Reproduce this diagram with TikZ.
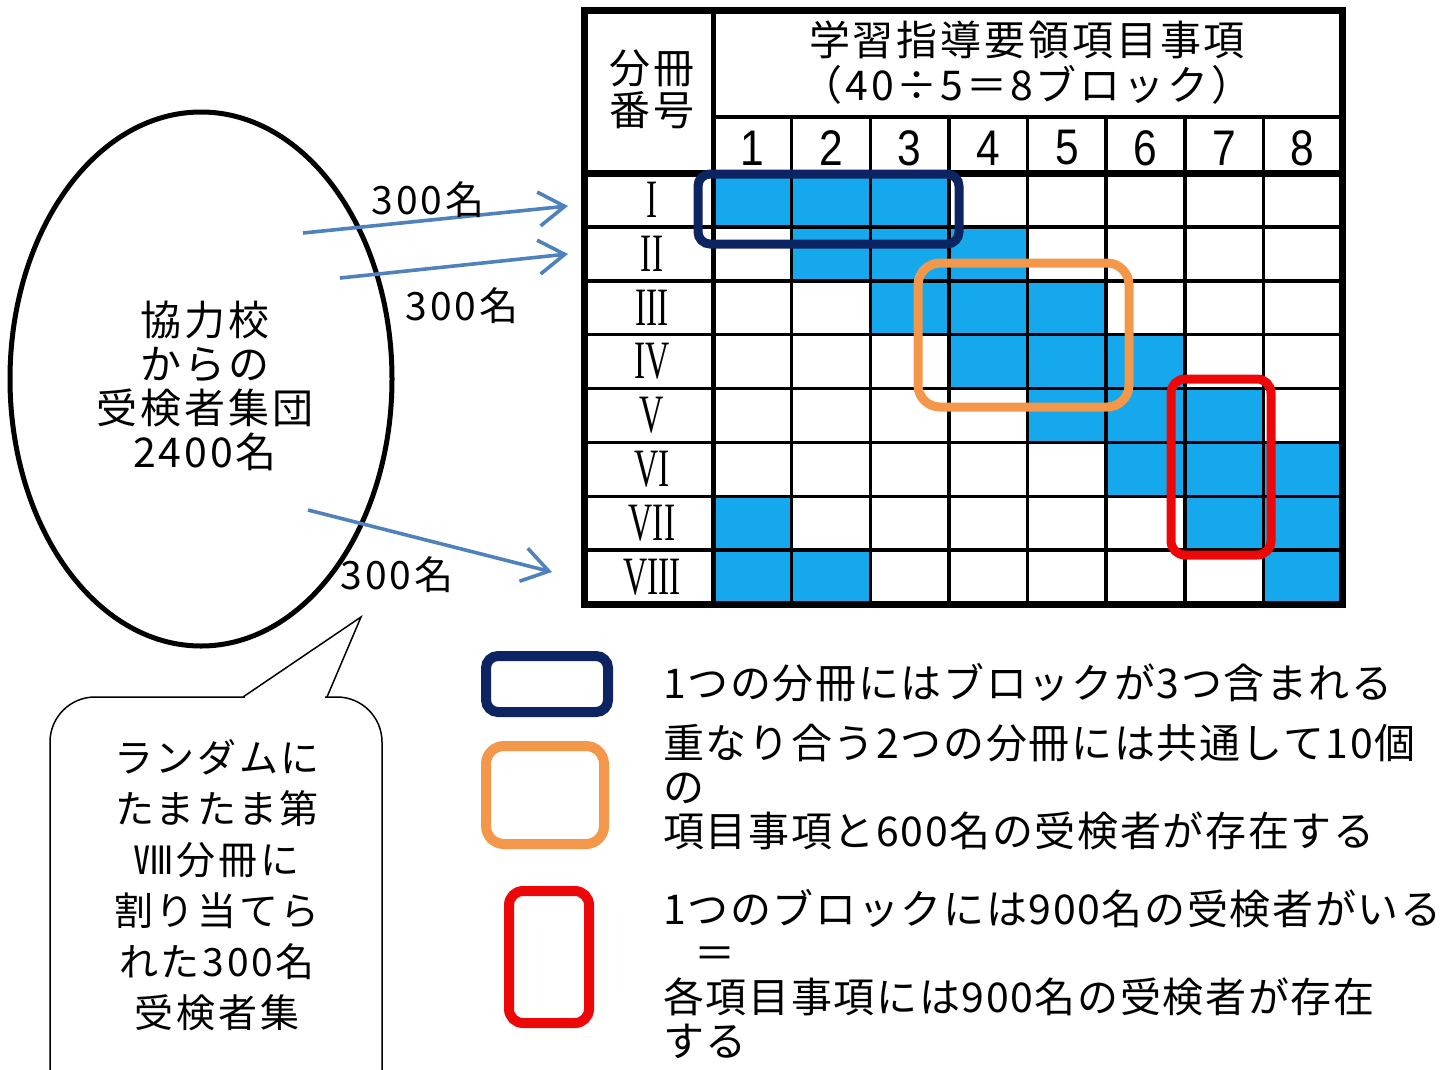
\documentclass[tikz,border=0pt]{standalone}
\usepackage{fontspec}
\setmainfont{Noto Sans CJK JP}
\newfontfamily\jpwide[LetterSpace=7]{Noto Sans CJK JP}
\newfontfamily\jpleg[LetterSpace=4]{Noto Sans CJK JP}
\newfontfamily\romfont[FakeStretch=0.62]{Liberation Serif}
\newfontfamily\numfont[FakeStretch=0.85]{Liberation Sans}
\usetikzlibrary{arrows.meta,shapes.geometric}
\definecolor{cellblue}{RGB}{22,168,236}
\definecolor{navyc}{RGB}{12,36,98}
\definecolor{orangec}{RGB}{243,152,74}
\definecolor{redc}{RGB}{236,8,8}
\definecolor{arrowc}{RGB}{79,129,189}
\begin{document}
\begin{tikzpicture}[x=1pt,y=-1pt,
  every node/.style={inner sep=0pt},
  cell/.style={fill=cellblue},
  gridline/.style={line width=3.5pt},
  frame/.style={line width=7pt},
  hl/.style={line width=9pt},
  flow/.style={arrowc, line width=3.6pt, -{Straight Barb[length=26pt,width=34pt,line width=3.6pt]}},
  lbl/.style={font=\jpwide\fontsize{39}{44}\selectfont},
  jp/.style={font=\jpwide\fontsize{41}{44}\selectfont},
  leg/.style={font=\jpleg\fontsize{41}{44}\selectfont, anchor=west, align=left},
]
\useasboundingbox (0,0) rectangle (1453,1069);

% ---------- table ----------
\foreach \r in {1,...,8}{\foreach \k in {0,1,2}{
  \pgfmathtruncatemacro\c{mod(\r+\k-1,8)}
  \fill[cell] ({713+78.625*\c},{173+53.875*(\r-1)}) rectangle ++(78.625,53.875);
}}
\foreach \k in {1,...,7} \draw[gridline] (584,{173+53.875*\k}) -- (1342,{173+53.875*\k});
\foreach \k in {1,...,7} \draw[gridline] ({713+78.625*\k},117) -- ({713+78.625*\k},604);
\draw[gridline] (713,117) -- (1342,117);
\draw[frame] (584,173) -- (1342,173);
\draw[line width=5pt] (713,10) -- (713,604);
\draw[frame] (584,10) rectangle (1342,604);

\node[align=center, font=\jpwide\fontsize{41}{45}\selectfont] (title) at (1027,63) {学習指導要領項目事項\\（40÷5＝8ブロック）};
\node[align=center, font=\jpwide\fontsize{41}{42}\selectfont] (bsn) at (652,89) {分冊\\番号};
\foreach \c in {1,...,8}
  \node[font=\numfont\fontsize{50}{50}\selectfont] (col\c) at ({713+78.625*(\c-0.5)},148) {\c};
\foreach \r/\t in {1/I,2/II,3/III,4/IV,5/V,6/VI,7/VII,8/VIII}
  \node[font=\romfont\fontsize{54}{54}\selectfont] (rn\r) at (652,{173+53.875*(\r-0.5)}) {\t};

% highlight boxes on table
\draw[hl, navyc, rounded corners=12pt] (698,174) rectangle (959,244);
\draw[hl, orangec, rounded corners=22pt] (918,263) rectangle (1129,407);
\draw[hl, redc, rounded corners=14pt] (1171,379) rectangle (1271,555);

% ---------- population ellipse ----------
\node[draw, ellipse, line width=5pt, minimum width=382pt, minimum height=534pt] (grp) at (201,379) {};
\node[jp, align=center] (grptext) at (205,386) {協力校\\からの\\受検者集団\\2400名};

\coordinate (a1s) at (303,233); \coordinate (a1e) at (568,206);
\coordinate (a2s) at (340,278); \coordinate (a2e) at (568,254);
\coordinate (a3s) at (308,510); \coordinate (a3e) at (552,572);
\draw[flow] (a1s) -- (a1e);
\draw[flow] (a2s) -- (a2e);
\draw[flow] (a3s) -- (a3e);
\node[lbl] (n1) at (428,200) {300名};
\node[lbl] (n2) at (462,306) {300名};
\node[lbl] (n3) at (397,575) {300名};

% ---------- callout ----------
\draw[line width=1.5pt, rounded corners=45pt] (50,697) rectangle (382,1130);
\fill[white] (245,692) rectangle (325,702);
\coordinate (tip) at (361,617);
\draw[line width=1.5pt] (243,697) -- (tip) -- (327,697);
\node[align=center, font=\jpwide\fontsize{39}{51}\selectfont] (note) at (217,885) {ランダムに\\たまたま第\\Ⅷ分冊に\\割り当てら\\れた300名\\受検者集};

% ---------- legend ----------
\draw[line width=10pt, navyc, rounded corners=12pt] (486,656) rectangle (608,712);
\draw[line width=10pt, orangec, rounded corners=18pt] (486,746) rectangle (604,844);
\draw[line width=10pt, redc, rounded corners=14pt] (509,891) rectangle (589,1023);
\node[leg] (l1) at (663,683) {1つの分冊にはブロックが3つ含まれる};
\node[leg] (l2) at (663,787) {重なり合う2つの分冊には共通して10個\\の\\項目事項と600名の受検者が存在する};
\node[leg] (l3) at (663,974) {1つのブロックには900名の受検者がいる\\\hspace*{31pt}＝\\各項目事項には900名の受検者が存在\\する};
\end{tikzpicture}
\end{document}
